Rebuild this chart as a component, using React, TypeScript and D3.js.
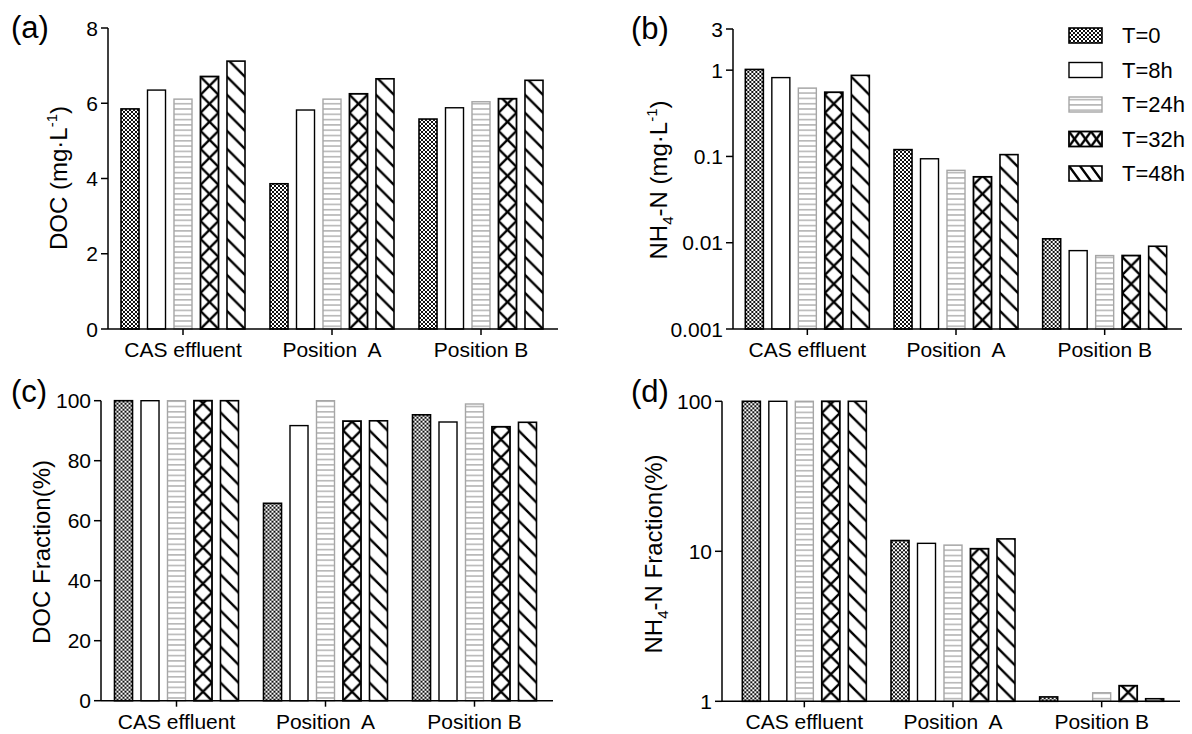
import React from "react";
import * as d3 from "d3";

// categories and series
const categories = ["CAS effluent", "Position  A", "Position B"];
const series = ["T=0", "T=8h", "T=24h", "T=32h", "T=48h"];

// values read per category, one entry per series
const docValues = [
  [5.85, 6.35, 6.11, 6.71, 7.12],
  [3.86, 5.82, 6.11, 6.25, 6.65],
  [5.58, 5.88, 6.04, 6.12, 6.61],
];
const nh4Values = [
  [1.02, 0.82, 0.62, 0.555, 0.87],
  [0.12, 0.094, 0.069, 0.058, 0.105],
  [0.0111, 0.0081, 0.0071, 0.0071, 0.0091],
];
const docFraction = [
  [100, 100, 100, 100, 100],
  [65.8, 91.7, 100, 93.2, 93.3],
  [95.3, 92.9, 98.9, 91.3, 92.8],
];
const nh4Fraction = [
  [100, 100, 100, 100, 100],
  [11.8, 11.3, 11.0, 10.4, 12.1],
  [1.07, 1.0, 1.14, 1.27, 1.04],
];

const docTicks = [0, 2, 4, 6, 8];
const nh4Ticks = [0.001, 0.01, 0.1, 1, 3];
const docFracTicks = [0, 20, 40, 60, 80, 100];
const nh4FracTicks = [1, 10, 100];

const FONT = "'Liberation Sans', Arial, sans-serif";
const width = 1192,
  height = 734;
const strokes = ["#000", "#000", "#a6a6a6", "#000", "#000"];
const strokeW = [1.6, 1.4, 1.4, 1.8, 1.6];

const inner = d3.scaleBand().domain(series).range([-62, 62]).paddingInner(0.32);

// pattern defs; x/y offset lets per-bar patterns line up with the bar
function pattern(id, s, x, y, w, h) {
  if (s === 0)
    return (
      <pattern key={id} id={id} patternUnits="userSpaceOnUse" x={x} y={y} width={4} height={4}>
        <rect width={4} height={4} fill="#fff" />
        <rect width={2} height={2} fill="#111" />
        <rect x={2} y={2} width={2} height={2} fill="#111" />
      </pattern>
    );
  if (s === 2)
    return (
      <pattern key={id} id={id} patternUnits="userSpaceOnUse" x={x} y={y} width={6} height={5.3}>
        <rect width={6} height={5.3} fill="#fff" />
        <line x1={0} x2={6} y1={2.6} y2={2.6} stroke="#a6a6a6" strokeWidth={1.3} />
      </pattern>
    );
  const back = `M0,0L${w},${h}M${-0.2 * w},${0.8 * h}L${0.2 * w},${1.2 * h}M${0.8 * w},${-0.2 * h}L${1.2 * w},${0.2 * h}`;
  const fwd = `M0,${h}L${w},0M${-0.2 * w},${0.2 * h}L${0.2 * w},${-0.2 * h}M${0.8 * w},${1.2 * h}L${1.2 * w},${0.8 * h}`;
  return (
    <pattern key={id} id={id} patternUnits="userSpaceOnUse" x={x} y={y} width={w} height={h}>
      <rect width={w} height={h} fill="#fff" />
      <path d={s === 3 ? back + fwd : back} stroke="#000" strokeWidth={2.4} fill="none" />
    </pattern>
  );
}

const panels = [
  {
    id: "a",
    label: "(a)",
    lx: 11,
    ly: 38,
    values: docValues,
    y: d3.scaleLinear().domain([0, 8]).range([329, 28]),
    ticks: docTicks,
    fmt: (d) => String(d),
    axisX: 108,
    band: [108.5, 555.5],
    axisEnd: 558,
    tx: 67,
    ty: 178,
    title: (
      <>
        DOC (mg·L<tspan dy={-10} fontSize={15}>-1</tspan>
        <tspan dy={10}>)</tspan>
      </>
    ),
  },
  {
    id: "b",
    label: "(b)",
    lx: 631,
    ly: 39,
    values: nh4Values,
    y: d3.scaleLog().domain([0.001, 3]).range([329, 29]),
    ticks: nh4Ticks,
    fmt: (d) => String(d),
    axisX: 733,
    band: [733, 1179],
    axisEnd: 1182,
    tx: 667,
    ty: 180,
    title: (
      <>
        NH<tspan dy={6} fontSize={15}>4</tspan>
        <tspan dy={-6}>-N (mg·L</tspan>
        <tspan dy={-10} fontSize={15}>-1</tspan>
        <tspan dy={10}>)</tspan>
      </>
    ),
  },
  {
    id: "c",
    label: "(c)",
    lx: 11,
    ly: 402,
    values: docFraction,
    y: d3.scaleLinear().domain([0, 100]).range([700.7, 400.7]),
    ticks: docFracTicks,
    fmt: (d) => String(d),
    axisX: 101,
    band: [102, 549],
    axisEnd: 553,
    tx: 50,
    ty: 552,
    title: <>DOC Fraction(%)</>,
  },
  {
    id: "d",
    label: "(d)",
    lx: 631,
    ly: 402,
    values: nh4Fraction,
    y: d3.scaleLog().domain([1, 100]).range([701.3, 401.3]),
    ticks: nh4FracTicks,
    fmt: (d) => String(d),
    axisX: 722,
    band: [730, 1176],
    axisEnd: 1180,
    tx: 662,
    ty: 554,
    title: (
      <>
        NH<tspan dy={6} fontSize={15}>4</tspan>
        <tspan dy={-6}>-N Fraction(%)</tspan>
      </>
    ),
  },
];

function Panel({ p }) {
  const x = d3.scaleBand().domain(categories).range(p.band);
  const [y0, y1] = p.y.range();
  const defs = [];
  const bars = [];
  p.values.forEach((row, ci) => {
    const cx = x(categories[ci]) + x.bandwidth() / 2;
    row.forEach((v, si) => {
      const bx = cx + inner(series[si]);
      const by = p.y(v);
      let fill = "#fff";
      if (si === 0 || si >= 2) {
        const pid = `pat-${p.id}-${ci}-${si}`;
        defs.push(pattern(pid, si, bx, y0, inner.bandwidth(), inner.bandwidth()));
        fill = `url(#${pid})`;
      }
      bars.push(
        <rect
          key={`${ci}-${si}`}
          x={bx}
          y={by}
          width={inner.bandwidth()}
          height={y0 - by}
          fill={fill}
          stroke={strokes[si]}
          strokeWidth={strokeW[si]}
        />
      );
    });
  });
  return (
    <g>
      <defs>{defs}</defs>
      {bars}
      <line x1={p.axisX} x2={p.axisX} y1={y0} y2={y1} stroke="#000" strokeWidth={1.5} />
      <line x1={p.axisX} x2={p.axisEnd} y1={y0} y2={y0} stroke="#000" strokeWidth={1.5} />
      {p.ticks.map((t) => (
        <g key={t} transform={`translate(${p.axisX},${p.y(t)})`}>
          <line x1={-7} x2={0} stroke="#000" strokeWidth={1.5} />
          <text x={-10} dy="0.36em" textAnchor="end" fontSize={21}>
            {p.fmt(t)}
          </text>
        </g>
      ))}
      {categories.map((c) => {
        const cx = x(c) + x.bandwidth() / 2;
        return (
          <g key={c} transform={`translate(${cx},${y0})`}>
            <line y1={0} y2={6} stroke="#000" strokeWidth={1.5} />
            <text y={28} textAnchor="middle" fontSize={21} style={{ whiteSpace: "pre" }}>
              {c}
            </text>
          </g>
        );
      })}
      <text
        transform={`translate(${p.tx},${p.ty}) rotate(-90)`}
        textAnchor="middle"
        fontSize={24}
      >
        {p.title}
      </text>
      <text x={p.lx} y={p.ly} fontSize={31}>
        {p.label}
      </text>
    </g>
  );
}

function Legend() {
  const lx = 1069,
    sw = 33,
    sh = 15;
  const rowY = d3.scaleLinear().domain([0, 4]).range([28, 166]);
  return (
    <g>
      <defs>
        {series.map((s, i) =>
          i !== 1 ? pattern(`pat-leg-${i}`, i, lx, rowY(i), i === 2 ? 6 : 11, i === 2 ? 5.3 : sh) : null
        )}
      </defs>
      {series.map((s, i) => (
        <g key={s}>
          <rect
            x={lx}
            y={rowY(i)}
            width={sw}
            height={sh}
            fill={i === 1 ? "#fff" : `url(#pat-leg-${i})`}
            stroke={strokes[i]}
            strokeWidth={strokeW[i]}
          />
          <text x={1122} y={rowY(i) + sh / 2} dy="0.36em" fontSize={22}>
            {s}
          </text>
        </g>
      ))}
    </g>
  );
}

export default function App() {
  return (
    <svg
      width={width}
      height={height}
      style={{ position: "absolute", left: 0, top: 0, background: "#fff" }}
      fontFamily={FONT}
    >
      <rect width={width} height={height} fill="#fff" />
      {panels.map((p) => (
        <Panel key={p.id} p={p} />
      ))}
      <Legend />
    </svg>
  );
}
